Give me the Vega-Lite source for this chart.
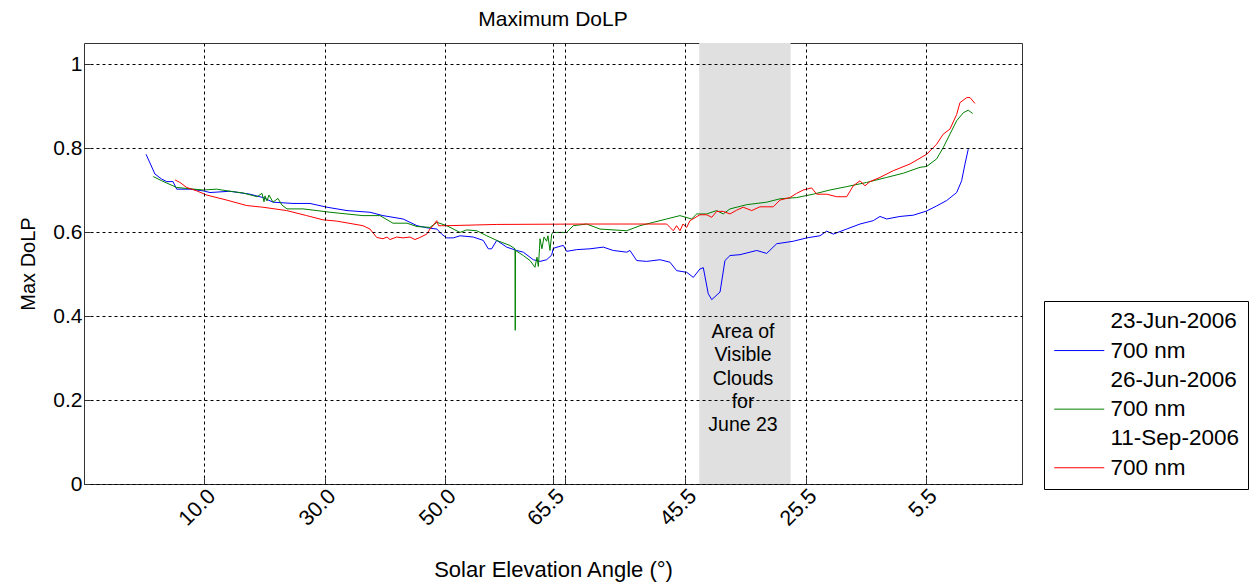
{
  "$schema": "https://vega.github.io/schema/vega-lite/v6.json",
  "width": 938,
  "height": 441,
  "autosize": {"type": "none"},
  "padding": {"left": 84, "top": 43, "right": 232, "bottom": 102},
  "background": "white",
  "title": {"text": "Maximum DoLP", "font": "Liberation Sans", "fontSize": 21, "fontWeight": "normal", "color": "black", "offset": 13},
  "config": {
    "font": "Liberation Sans",
    "view": {"stroke": "#333333", "strokeWidth": 1},
    "legend": {
      "orient": "none", "legendX": 960, "legendY": 258,
      "strokeColor": "black", "fillColor": "white", "padding": 9,
      "symbolType": "M-1,0H4", "symbolSize": 400, "symbolStrokeWidth": 1,
      "labelFontSize": 22.5, "labelFont": "Liberation Sans", "labelColor": "black",
      "labelOffset": 35, "rowPadding": 6.3, "labelLimit": 0
    }
  },
  "datasets": {
    "band": [{"start": 5.116, "end": 5.876}],
    "note": [{"t": 5.48, "v": 0.362, "label": "Area of\nVisible\nClouds\nfor\nJune 23"}],
    "lines": [
      {"series": "23-Jun-2006 700 nm", "t": 0.516, "dolp": 0.785},
      {"series": "23-Jun-2006 700 nm", "t": 0.590, "dolp": 0.738},
      {"series": "23-Jun-2006 700 nm", "t": 0.646, "dolp": 0.726},
      {"series": "23-Jun-2006 700 nm", "t": 0.688, "dolp": 0.720},
      {"series": "23-Jun-2006 700 nm", "t": 0.740, "dolp": 0.720},
      {"series": "23-Jun-2006 700 nm", "t": 0.771, "dolp": 0.702},
      {"series": "23-Jun-2006 700 nm", "t": 0.881, "dolp": 0.702},
      {"series": "23-Jun-2006 700 nm", "t": 0.990, "dolp": 0.698},
      {"series": "23-Jun-2006 700 nm", "t": 1.048, "dolp": 0.694},
      {"series": "23-Jun-2006 700 nm", "t": 1.214, "dolp": 0.697},
      {"series": "23-Jun-2006 700 nm", "t": 1.380, "dolp": 0.690},
      {"series": "23-Jun-2006 700 nm", "t": 1.488, "dolp": 0.682},
      {"series": "23-Jun-2006 700 nm", "t": 1.572, "dolp": 0.671},
      {"series": "23-Jun-2006 700 nm", "t": 1.738, "dolp": 0.668},
      {"series": "23-Jun-2006 700 nm", "t": 1.879, "dolp": 0.668},
      {"series": "23-Jun-2006 700 nm", "t": 2.021, "dolp": 0.659},
      {"series": "23-Jun-2006 700 nm", "t": 2.187, "dolp": 0.651},
      {"series": "23-Jun-2006 700 nm", "t": 2.378, "dolp": 0.647},
      {"series": "23-Jun-2006 700 nm", "t": 2.486, "dolp": 0.639},
      {"series": "23-Jun-2006 700 nm", "t": 2.653, "dolp": 0.631},
      {"series": "23-Jun-2006 700 nm", "t": 2.769, "dolp": 0.615},
      {"series": "23-Jun-2006 700 nm", "t": 2.852, "dolp": 0.610},
      {"series": "23-Jun-2006 700 nm", "t": 2.935, "dolp": 0.607},
      {"series": "23-Jun-2006 700 nm", "t": 2.974, "dolp": 0.595},
      {"series": "23-Jun-2006 700 nm", "t": 3.016, "dolp": 0.586},
      {"series": "23-Jun-2006 700 nm", "t": 3.071, "dolp": 0.586},
      {"series": "23-Jun-2006 700 nm", "t": 3.127, "dolp": 0.591},
      {"series": "23-Jun-2006 700 nm", "t": 3.237, "dolp": 0.588},
      {"series": "23-Jun-2006 700 nm", "t": 3.320, "dolp": 0.580},
      {"series": "23-Jun-2006 700 nm", "t": 3.362, "dolp": 0.560},
      {"series": "23-Jun-2006 700 nm", "t": 3.390, "dolp": 0.560},
      {"series": "23-Jun-2006 700 nm", "t": 3.432, "dolp": 0.580},
      {"series": "23-Jun-2006 700 nm", "t": 3.515, "dolp": 0.564},
      {"series": "23-Jun-2006 700 nm", "t": 3.598, "dolp": 0.556},
      {"series": "23-Jun-2006 700 nm", "t": 3.653, "dolp": 0.552},
      {"series": "23-Jun-2006 700 nm", "t": 3.736, "dolp": 0.534},
      {"series": "23-Jun-2006 700 nm", "t": 3.792, "dolp": 0.530},
      {"series": "23-Jun-2006 700 nm", "t": 3.847, "dolp": 0.534},
      {"series": "23-Jun-2006 700 nm", "t": 3.889, "dolp": 0.545},
      {"series": "23-Jun-2006 700 nm", "t": 3.902, "dolp": 0.561},
      {"series": "23-Jun-2006 700 nm", "t": 3.958, "dolp": 0.566},
      {"series": "23-Jun-2006 700 nm", "t": 3.986, "dolp": 0.568},
      {"series": "23-Jun-2006 700 nm", "t": 4.014, "dolp": 0.554},
      {"series": "23-Jun-2006 700 nm", "t": 4.097, "dolp": 0.558},
      {"series": "23-Jun-2006 700 nm", "t": 4.208, "dolp": 0.560},
      {"series": "23-Jun-2006 700 nm", "t": 4.318, "dolp": 0.564},
      {"series": "23-Jun-2006 700 nm", "t": 4.401, "dolp": 0.556},
      {"series": "23-Jun-2006 700 nm", "t": 4.513, "dolp": 0.552},
      {"series": "23-Jun-2006 700 nm", "t": 4.540, "dolp": 0.556},
      {"series": "23-Jun-2006 700 nm", "t": 4.596, "dolp": 0.532},
      {"series": "23-Jun-2006 700 nm", "t": 4.679, "dolp": 0.530},
      {"series": "23-Jun-2006 700 nm", "t": 4.790, "dolp": 0.534},
      {"series": "23-Jun-2006 700 nm", "t": 4.873, "dolp": 0.528},
      {"series": "23-Jun-2006 700 nm", "t": 4.928, "dolp": 0.508},
      {"series": "23-Jun-2006 700 nm", "t": 5.012, "dolp": 0.504},
      {"series": "23-Jun-2006 700 nm", "t": 5.067, "dolp": 0.492},
      {"series": "23-Jun-2006 700 nm", "t": 5.122, "dolp": 0.512},
      {"series": "23-Jun-2006 700 nm", "t": 5.150, "dolp": 0.515},
      {"series": "23-Jun-2006 700 nm", "t": 5.191, "dolp": 0.453},
      {"series": "23-Jun-2006 700 nm", "t": 5.220, "dolp": 0.439},
      {"series": "23-Jun-2006 700 nm", "t": 5.289, "dolp": 0.457},
      {"series": "23-Jun-2006 700 nm", "t": 5.330, "dolp": 0.532},
      {"series": "23-Jun-2006 700 nm", "t": 5.372, "dolp": 0.544},
      {"series": "23-Jun-2006 700 nm", "t": 5.455, "dolp": 0.546},
      {"series": "23-Jun-2006 700 nm", "t": 5.594, "dolp": 0.556},
      {"series": "23-Jun-2006 700 nm", "t": 5.677, "dolp": 0.549},
      {"series": "23-Jun-2006 700 nm", "t": 5.760, "dolp": 0.572},
      {"series": "23-Jun-2006 700 nm", "t": 5.898, "dolp": 0.578},
      {"series": "23-Jun-2006 700 nm", "t": 6.010, "dolp": 0.586},
      {"series": "23-Jun-2006 700 nm", "t": 6.120, "dolp": 0.591},
      {"series": "23-Jun-2006 700 nm", "t": 6.176, "dolp": 0.602},
      {"series": "23-Jun-2006 700 nm", "t": 6.231, "dolp": 0.595},
      {"series": "23-Jun-2006 700 nm", "t": 6.342, "dolp": 0.607},
      {"series": "23-Jun-2006 700 nm", "t": 6.453, "dolp": 0.619},
      {"series": "23-Jun-2006 700 nm", "t": 6.563, "dolp": 0.627},
      {"series": "23-Jun-2006 700 nm", "t": 6.619, "dolp": 0.637},
      {"series": "23-Jun-2006 700 nm", "t": 6.675, "dolp": 0.631},
      {"series": "23-Jun-2006 700 nm", "t": 6.785, "dolp": 0.637},
      {"series": "23-Jun-2006 700 nm", "t": 6.896, "dolp": 0.640},
      {"series": "23-Jun-2006 700 nm", "t": 7.007, "dolp": 0.650},
      {"series": "23-Jun-2006 700 nm", "t": 7.090, "dolp": 0.662},
      {"series": "23-Jun-2006 700 nm", "t": 7.174, "dolp": 0.675},
      {"series": "23-Jun-2006 700 nm", "t": 7.257, "dolp": 0.694},
      {"series": "23-Jun-2006 700 nm", "t": 7.298, "dolp": 0.722},
      {"series": "23-Jun-2006 700 nm", "t": 7.326, "dolp": 0.762},
      {"series": "23-Jun-2006 700 nm", "t": 7.353, "dolp": 0.797},

      {"series": "26-Jun-2006 700 nm", "t": 0.576, "dolp": 0.732},
      {"series": "26-Jun-2006 700 nm", "t": 0.646, "dolp": 0.722},
      {"series": "26-Jun-2006 700 nm", "t": 0.771, "dolp": 0.706},
      {"series": "26-Jun-2006 700 nm", "t": 0.990, "dolp": 0.700},
      {"series": "26-Jun-2006 700 nm", "t": 1.103, "dolp": 0.702},
      {"series": "26-Jun-2006 700 nm", "t": 1.214, "dolp": 0.697},
      {"series": "26-Jun-2006 700 nm", "t": 1.322, "dolp": 0.693},
      {"series": "26-Jun-2006 700 nm", "t": 1.439, "dolp": 0.684},
      {"series": "26-Jun-2006 700 nm", "t": 1.480, "dolp": 0.692},
      {"series": "26-Jun-2006 700 nm", "t": 1.497, "dolp": 0.672},
      {"series": "26-Jun-2006 700 nm", "t": 1.505, "dolp": 0.686},
      {"series": "26-Jun-2006 700 nm", "t": 1.522, "dolp": 0.674},
      {"series": "26-Jun-2006 700 nm", "t": 1.538, "dolp": 0.688},
      {"series": "26-Jun-2006 700 nm", "t": 1.572, "dolp": 0.671},
      {"series": "26-Jun-2006 700 nm", "t": 1.613, "dolp": 0.680},
      {"series": "26-Jun-2006 700 nm", "t": 1.646, "dolp": 0.664},
      {"series": "26-Jun-2006 700 nm", "t": 1.688, "dolp": 0.655},
      {"series": "26-Jun-2006 700 nm", "t": 1.821, "dolp": 0.655},
      {"series": "26-Jun-2006 700 nm", "t": 1.937, "dolp": 0.651},
      {"series": "26-Jun-2006 700 nm", "t": 2.046, "dolp": 0.647},
      {"series": "26-Jun-2006 700 nm", "t": 2.320, "dolp": 0.639},
      {"series": "26-Jun-2006 700 nm", "t": 2.461, "dolp": 0.639},
      {"series": "26-Jun-2006 700 nm", "t": 2.569, "dolp": 0.621},
      {"series": "26-Jun-2006 700 nm", "t": 2.686, "dolp": 0.621},
      {"series": "26-Jun-2006 700 nm", "t": 2.769, "dolp": 0.613},
      {"series": "26-Jun-2006 700 nm", "t": 2.877, "dolp": 0.611},
      {"series": "26-Jun-2006 700 nm", "t": 2.935, "dolp": 0.623},
      {"series": "26-Jun-2006 700 nm", "t": 3.016, "dolp": 0.615},
      {"series": "26-Jun-2006 700 nm", "t": 3.127, "dolp": 0.599},
      {"series": "26-Jun-2006 700 nm", "t": 3.182, "dolp": 0.605},
      {"series": "26-Jun-2006 700 nm", "t": 3.266, "dolp": 0.603},
      {"series": "26-Jun-2006 700 nm", "t": 3.349, "dolp": 0.591},
      {"series": "26-Jun-2006 700 nm", "t": 3.432, "dolp": 0.580},
      {"series": "26-Jun-2006 700 nm", "t": 3.542, "dolp": 0.568},
      {"series": "26-Jun-2006 700 nm", "t": 3.584, "dolp": 0.560},
      {"series": "26-Jun-2006 700 nm", "t": 3.586, "dolp": 0.366},
      {"series": "26-Jun-2006 700 nm", "t": 3.588, "dolp": 0.556},
      {"series": "26-Jun-2006 700 nm", "t": 3.653, "dolp": 0.544},
      {"series": "26-Jun-2006 700 nm", "t": 3.709, "dolp": 0.532},
      {"series": "26-Jun-2006 700 nm", "t": 3.750, "dolp": 0.516},
      {"series": "26-Jun-2006 700 nm", "t": 3.767, "dolp": 0.540},
      {"series": "26-Jun-2006 700 nm", "t": 3.778, "dolp": 0.518},
      {"series": "26-Jun-2006 700 nm", "t": 3.788, "dolp": 0.560},
      {"series": "26-Jun-2006 700 nm", "t": 3.792, "dolp": 0.584},
      {"series": "26-Jun-2006 700 nm", "t": 3.808, "dolp": 0.560},
      {"series": "26-Jun-2006 700 nm", "t": 3.825, "dolp": 0.588},
      {"series": "26-Jun-2006 700 nm", "t": 3.847, "dolp": 0.578},
      {"series": "26-Jun-2006 700 nm", "t": 3.858, "dolp": 0.591},
      {"series": "26-Jun-2006 700 nm", "t": 3.875, "dolp": 0.556},
      {"series": "26-Jun-2006 700 nm", "t": 3.889, "dolp": 0.595},
      {"series": "26-Jun-2006 700 nm", "t": 3.902, "dolp": 0.599},
      {"series": "26-Jun-2006 700 nm", "t": 4.014, "dolp": 0.599},
      {"series": "26-Jun-2006 700 nm", "t": 4.069, "dolp": 0.615},
      {"series": "26-Jun-2006 700 nm", "t": 4.180, "dolp": 0.619},
      {"series": "26-Jun-2006 700 nm", "t": 4.291, "dolp": 0.607},
      {"series": "26-Jun-2006 700 nm", "t": 4.513, "dolp": 0.603},
      {"series": "26-Jun-2006 700 nm", "t": 4.623, "dolp": 0.615},
      {"series": "26-Jun-2006 700 nm", "t": 4.734, "dolp": 0.623},
      {"series": "26-Jun-2006 700 nm", "t": 4.845, "dolp": 0.631},
      {"series": "26-Jun-2006 700 nm", "t": 4.956, "dolp": 0.639},
      {"series": "26-Jun-2006 700 nm", "t": 5.053, "dolp": 0.631},
      {"series": "26-Jun-2006 700 nm", "t": 5.095, "dolp": 0.643},
      {"series": "26-Jun-2006 700 nm", "t": 5.178, "dolp": 0.643},
      {"series": "26-Jun-2006 700 nm", "t": 5.261, "dolp": 0.651},
      {"series": "26-Jun-2006 700 nm", "t": 5.316, "dolp": 0.643},
      {"series": "26-Jun-2006 700 nm", "t": 5.372, "dolp": 0.655},
      {"series": "26-Jun-2006 700 nm", "t": 5.510, "dolp": 0.665},
      {"series": "26-Jun-2006 700 nm", "t": 5.677, "dolp": 0.671},
      {"series": "26-Jun-2006 700 nm", "t": 5.787, "dolp": 0.679},
      {"series": "26-Jun-2006 700 nm", "t": 5.926, "dolp": 0.682},
      {"series": "26-Jun-2006 700 nm", "t": 6.064, "dolp": 0.690},
      {"series": "26-Jun-2006 700 nm", "t": 6.203, "dolp": 0.700},
      {"series": "26-Jun-2006 700 nm", "t": 6.342, "dolp": 0.708},
      {"series": "26-Jun-2006 700 nm", "t": 6.508, "dolp": 0.718},
      {"series": "26-Jun-2006 700 nm", "t": 6.675, "dolp": 0.730},
      {"series": "26-Jun-2006 700 nm", "t": 6.813, "dolp": 0.740},
      {"series": "26-Jun-2006 700 nm", "t": 6.952, "dolp": 0.754},
      {"series": "26-Jun-2006 700 nm", "t": 7.007, "dolp": 0.756},
      {"series": "26-Jun-2006 700 nm", "t": 7.090, "dolp": 0.774},
      {"series": "26-Jun-2006 700 nm", "t": 7.145, "dolp": 0.801},
      {"series": "26-Jun-2006 700 nm", "t": 7.201, "dolp": 0.833},
      {"series": "26-Jun-2006 700 nm", "t": 7.257, "dolp": 0.865},
      {"series": "26-Jun-2006 700 nm", "t": 7.312, "dolp": 0.884},
      {"series": "26-Jun-2006 700 nm", "t": 7.353, "dolp": 0.890},
      {"series": "26-Jun-2006 700 nm", "t": 7.390, "dolp": 0.882},

      {"series": "11-Sep-2006 700 nm", "t": 0.757, "dolp": 0.724},
      {"series": "11-Sep-2006 700 nm", "t": 0.798, "dolp": 0.718},
      {"series": "11-Sep-2006 700 nm", "t": 0.854, "dolp": 0.706},
      {"series": "11-Sep-2006 700 nm", "t": 0.937, "dolp": 0.698},
      {"series": "11-Sep-2006 700 nm", "t": 1.020, "dolp": 0.688},
      {"series": "11-Sep-2006 700 nm", "t": 1.187, "dolp": 0.676},
      {"series": "11-Sep-2006 700 nm", "t": 1.353, "dolp": 0.663},
      {"series": "11-Sep-2006 700 nm", "t": 1.488, "dolp": 0.659},
      {"series": "11-Sep-2006 700 nm", "t": 1.686, "dolp": 0.651},
      {"series": "11-Sep-2006 700 nm", "t": 1.852, "dolp": 0.639},
      {"series": "11-Sep-2006 700 nm", "t": 1.987, "dolp": 0.629},
      {"series": "11-Sep-2006 700 nm", "t": 2.101, "dolp": 0.626},
      {"series": "11-Sep-2006 700 nm", "t": 2.320, "dolp": 0.615},
      {"series": "11-Sep-2006 700 nm", "t": 2.378, "dolp": 0.607},
      {"series": "11-Sep-2006 700 nm", "t": 2.434, "dolp": 0.587},
      {"series": "11-Sep-2006 700 nm", "t": 2.486, "dolp": 0.584},
      {"series": "11-Sep-2006 700 nm", "t": 2.520, "dolp": 0.588},
      {"series": "11-Sep-2006 700 nm", "t": 2.544, "dolp": 0.582},
      {"series": "11-Sep-2006 700 nm", "t": 2.600, "dolp": 0.588},
      {"series": "11-Sep-2006 700 nm", "t": 2.653, "dolp": 0.586},
      {"series": "11-Sep-2006 700 nm", "t": 2.711, "dolp": 0.588},
      {"series": "11-Sep-2006 700 nm", "t": 2.752, "dolp": 0.582},
      {"series": "11-Sep-2006 700 nm", "t": 2.794, "dolp": 0.587},
      {"series": "11-Sep-2006 700 nm", "t": 2.850, "dolp": 0.595},
      {"series": "11-Sep-2006 700 nm", "t": 2.877, "dolp": 0.607},
      {"series": "11-Sep-2006 700 nm", "t": 2.902, "dolp": 0.615},
      {"series": "11-Sep-2006 700 nm", "t": 2.933, "dolp": 0.627},
      {"series": "11-Sep-2006 700 nm", "t": 2.948, "dolp": 0.615},
      {"series": "11-Sep-2006 700 nm", "t": 2.974, "dolp": 0.615},
      {"series": "11-Sep-2006 700 nm", "t": 3.016, "dolp": 0.615},
      {"series": "11-Sep-2006 700 nm", "t": 3.432, "dolp": 0.618},
      {"series": "11-Sep-2006 700 nm", "t": 4.180, "dolp": 0.619},
      {"series": "11-Sep-2006 700 nm", "t": 4.845, "dolp": 0.619},
      {"series": "11-Sep-2006 700 nm", "t": 4.873, "dolp": 0.611},
      {"series": "11-Sep-2006 700 nm", "t": 4.900, "dolp": 0.603},
      {"series": "11-Sep-2006 700 nm", "t": 4.928, "dolp": 0.615},
      {"series": "11-Sep-2006 700 nm", "t": 4.956, "dolp": 0.603},
      {"series": "11-Sep-2006 700 nm", "t": 4.981, "dolp": 0.619},
      {"series": "11-Sep-2006 700 nm", "t": 5.012, "dolp": 0.611},
      {"series": "11-Sep-2006 700 nm", "t": 5.039, "dolp": 0.627},
      {"series": "11-Sep-2006 700 nm", "t": 5.122, "dolp": 0.641},
      {"series": "11-Sep-2006 700 nm", "t": 5.178, "dolp": 0.641},
      {"series": "11-Sep-2006 700 nm", "t": 5.220, "dolp": 0.635},
      {"series": "11-Sep-2006 700 nm", "t": 5.261, "dolp": 0.649},
      {"series": "11-Sep-2006 700 nm", "t": 5.316, "dolp": 0.649},
      {"series": "11-Sep-2006 700 nm", "t": 5.372, "dolp": 0.643},
      {"series": "11-Sep-2006 700 nm", "t": 5.427, "dolp": 0.652},
      {"series": "11-Sep-2006 700 nm", "t": 5.482, "dolp": 0.659},
      {"series": "11-Sep-2006 700 nm", "t": 5.552, "dolp": 0.651},
      {"series": "11-Sep-2006 700 nm", "t": 5.621, "dolp": 0.660},
      {"series": "11-Sep-2006 700 nm", "t": 5.732, "dolp": 0.660},
      {"series": "11-Sep-2006 700 nm", "t": 5.787, "dolp": 0.676},
      {"series": "11-Sep-2006 700 nm", "t": 5.871, "dolp": 0.682},
      {"series": "11-Sep-2006 700 nm", "t": 5.926, "dolp": 0.692},
      {"series": "11-Sep-2006 700 nm", "t": 5.981, "dolp": 0.700},
      {"series": "11-Sep-2006 700 nm", "t": 6.051, "dolp": 0.705},
      {"series": "11-Sep-2006 700 nm", "t": 6.093, "dolp": 0.690},
      {"series": "11-Sep-2006 700 nm", "t": 6.176, "dolp": 0.690},
      {"series": "11-Sep-2006 700 nm", "t": 6.259, "dolp": 0.684},
      {"series": "11-Sep-2006 700 nm", "t": 6.342, "dolp": 0.684},
      {"series": "11-Sep-2006 700 nm", "t": 6.397, "dolp": 0.710},
      {"series": "11-Sep-2006 700 nm", "t": 6.453, "dolp": 0.722},
      {"series": "11-Sep-2006 700 nm", "t": 6.494, "dolp": 0.710},
      {"series": "11-Sep-2006 700 nm", "t": 6.536, "dolp": 0.720},
      {"series": "11-Sep-2006 700 nm", "t": 6.619, "dolp": 0.730},
      {"series": "11-Sep-2006 700 nm", "t": 6.730, "dolp": 0.746},
      {"series": "11-Sep-2006 700 nm", "t": 6.869, "dolp": 0.762},
      {"series": "11-Sep-2006 700 nm", "t": 7.007, "dolp": 0.785},
      {"series": "11-Sep-2006 700 nm", "t": 7.090, "dolp": 0.809},
      {"series": "11-Sep-2006 700 nm", "t": 7.145, "dolp": 0.833},
      {"series": "11-Sep-2006 700 nm", "t": 7.201, "dolp": 0.845},
      {"series": "11-Sep-2006 700 nm", "t": 7.257, "dolp": 0.880},
      {"series": "11-Sep-2006 700 nm", "t": 7.284, "dolp": 0.908},
      {"series": "11-Sep-2006 700 nm", "t": 7.341, "dolp": 0.920},
      {"series": "11-Sep-2006 700 nm", "t": 7.368, "dolp": 0.920},
      {"series": "11-Sep-2006 700 nm", "t": 7.409, "dolp": 0.906}
    ]
  },
  "layer": [
    {
      "data": {"name": "band"},
      "mark": {"type": "rect", "color": "#e0e0e0"},
      "encoding": {
        "x": {
          "field": "start", "type": "quantitative",
          "scale": {"domain": [0, 7.8], "nice": false, "zero": false},
          "axis": {
            "values": [1, 2, 3, 3.9, 4, 5, 6, 7],
            "labelExpr": "datum.value == 1 ? '10.0' : datum.value == 2 ? '30.0' : datum.value == 3 ? '50.0' : datum.value == 3.9 ? '65.5' : datum.value == 5 ? '45.5' : datum.value == 6 ? '25.5' : datum.value == 7 ? '5.5' : ''",
            "labelAngle": -45, "labelFontSize": 21.5, "labelColor": "black", "labelFont": "Liberation Sans",
            "labelPadding": 7, "labelOverlap": false, "labelBound": false,
            "grid": true, "gridColor": "black", "gridDash": [3, 3], "gridOpacity": 1, "gridWidth": 1,
            "domain": false, "ticks": true, "tickSize": -6, "tickColor": "#333333",
            "title": "Solar Elevation Angle (°)", "titleFontSize": 22, "titleFontWeight": "normal",
            "titleColor": "black", "titleFont": "Liberation Sans", "titlePadding": 30,
            "zindex": 1
          }
        },
        "x2": {"field": "end"}
      }
    },
    {
      "data": {"name": "lines"},
      "mark": {"type": "line", "strokeWidth": 1, "interpolate": "linear"},
      "encoding": {
        "x": {"field": "t", "type": "quantitative"},
        "y": {
          "field": "dolp", "type": "quantitative",
          "scale": {"domain": [0, 1.05], "nice": false},
          "axis": {
            "values": [0, 0.2, 0.4, 0.6, 0.8, 1],
            "format": ".1~f",
            "labelFontSize": 21, "labelColor": "black", "labelFont": "Liberation Sans",
            "labelPadding": 8,
            "grid": true, "gridColor": "black", "gridDash": [3, 3], "gridOpacity": 1, "gridWidth": 1,
            "domain": false, "ticks": true, "tickSize": -6, "tickColor": "#333333",
            "title": "Max DoLP", "titleFontSize": 20, "titleFontWeight": "normal",
            "titleColor": "black", "titleFont": "Liberation Sans", "titlePadding": 14,
            "zindex": 1
          }
        },
        "color": {
          "field": "series", "type": "nominal",
          "scale": {
            "domain": ["23-Jun-2006", "23-Jun-2006 700 nm", "26-Jun-2006", "26-Jun-2006 700 nm", "11-Sep-2006", "11-Sep-2006 700 nm"],
            "range": ["white", "#0000ff", "white", "#008000", "white", "#ff0000"]
          },
          "legend": {
            "title": null,
            "labelExpr": "indexof(datum.label, ' 700') > 0 ? '700 nm' : datum.label",
            "encode": {
              "symbols": {
                "update": {
                  "stroke": {"scale": "color", "field": "value"},
                  "fill": {"value": "transparent"},
                  "opacity": {"value": 1}
                }
              }
            }
          }
        }
      }
    },
    {
      "data": {"name": "note"},
      "mark": {"type": "text", "lineBreak": "\n", "fontSize": 19.5, "lineHeight": 23.3, "align": "center", "baseline": "middle", "color": "black", "font": "Liberation Sans"},
      "encoding": {
        "x": {"field": "t", "type": "quantitative"},
        "y": {"field": "v", "type": "quantitative"},
        "text": {"field": "label"}
      }
    }
  ]
}
